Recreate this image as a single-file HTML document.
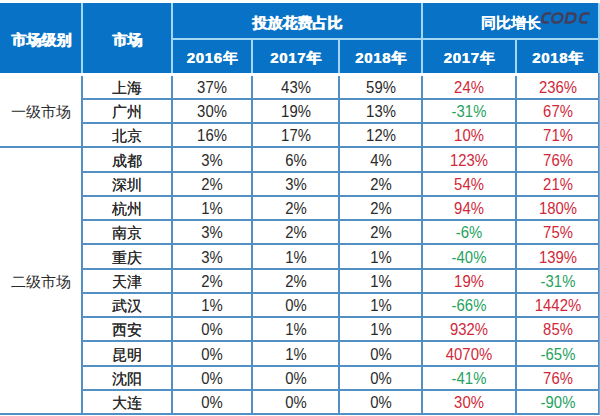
<!DOCTYPE html>
<html><head><meta charset="utf-8"><style>
html,body{margin:0;padding:0;background:#fff;width:600px;height:416px;overflow:hidden;position:relative}
.b{position:absolute}
.t{position:absolute;width:200px;height:30px;line-height:30px;text-align:center;white-space:nowrap;font-family:"Liberation Sans",sans-serif;font-size:15px}
.hb{color:#fff;font-weight:bold;text-shadow:0.5px 0 0 #fff}
.n{font-size:16px;transform:scaleX(0.93)}
.y{font-size:15px}
.ls{letter-spacing:0.7px}
.d{color:#2a2a2a}
.c{text-shadow:0.25px 0 0 #2a2a2a}
.wm{position:absolute;left:539px;top:6px;font-family:"Liberation Sans",sans-serif;font-style:italic;font-size:17px;color:#3b4a6a;letter-spacing:0px}
</style></head><body>
<div class="b" style="left:0px;top:3px;width:600px;height:70px;background:#0873c6"></div>
<div class="b" style="left:81px;top:3px;width:2px;height:70px;background:#a3d7f5"></div>
<div class="b" style="left:171px;top:3px;width:2px;height:70px;background:#a3d7f5"></div>
<div class="b" style="left:421px;top:3px;width:2px;height:70px;background:#a3d7f5"></div>
<div class="b" style="left:251px;top:38px;width:2px;height:35px;background:#a3d7f5"></div>
<div class="b" style="left:338px;top:38px;width:2px;height:35px;background:#a3d7f5"></div>
<div class="b" style="left:515px;top:38px;width:2px;height:35px;background:#a3d7f5"></div>
<div class="b" style="left:173px;top:38px;width:427px;height:2px;background:#a3d7f5"></div>
<div class="b" style="left:598px;top:3px;width:2px;height:70px;background:#a3d7f5"></div>
<div class="b" style="left:82px;top:98px;width:516px;height:2px;background:#5290c4"></div>
<div class="b" style="left:82px;top:122px;width:516px;height:2px;background:#5290c4"></div>
<div class="b" style="left:0px;top:146px;width:598px;height:2px;background:#5290c4"></div>
<div class="b" style="left:82px;top:171px;width:516px;height:2px;background:#5290c4"></div>
<div class="b" style="left:82px;top:195px;width:516px;height:2px;background:#5290c4"></div>
<div class="b" style="left:82px;top:219px;width:516px;height:2px;background:#5290c4"></div>
<div class="b" style="left:82px;top:243px;width:516px;height:2px;background:#5290c4"></div>
<div class="b" style="left:82px;top:268px;width:516px;height:2px;background:#5290c4"></div>
<div class="b" style="left:82px;top:292px;width:516px;height:2px;background:#5290c4"></div>
<div class="b" style="left:82px;top:316px;width:516px;height:2px;background:#5290c4"></div>
<div class="b" style="left:82px;top:340px;width:516px;height:2px;background:#5290c4"></div>
<div class="b" style="left:82px;top:365px;width:516px;height:2px;background:#5290c4"></div>
<div class="b" style="left:82px;top:389px;width:516px;height:2px;background:#5290c4"></div>
<div class="b" style="left:0px;top:413px;width:598px;height:2px;background:#5290c4"></div>
<div class="b" style="left:81px;top:76px;width:2px;height:339px;background:#5290c4"></div>
<div class="b" style="left:171px;top:76px;width:2px;height:339px;background:#5290c4"></div>
<div class="b" style="left:251px;top:76px;width:2px;height:339px;background:#5290c4"></div>
<div class="b" style="left:338px;top:76px;width:2px;height:339px;background:#5290c4"></div>
<div class="b" style="left:421px;top:76px;width:2px;height:339px;background:#5290c4"></div>
<div class="b" style="left:515px;top:76px;width:2px;height:339px;background:#5290c4"></div>
<div class="b" style="left:598px;top:73px;width:1px;height:342px;background:#5290c4"></div>
<div class="b" style="left:599px;top:73px;width:1px;height:342px;background:#74acd6"></div>
<div class="t hb" style="left:-59px;top:24.5px">市场级别</div>
<div class="t hb" style="left:27px;top:24.5px">市场</div>
<div class="t hb" style="left:197px;top:8px">投放花费占比</div>
<div class="t hb" style="left:410.5px;top:8px">同比增长</div>
<div class="t hb y" style="left:112.0px;top:43px"><span class="ls">2016</span>年</div>
<div class="t hb y" style="left:195.5px;top:43px"><span class="ls">2017</span>年</div>
<div class="t hb y" style="left:280.5px;top:43px"><span class="ls">2018</span>年</div>
<div class="t hb y" style="left:369.0px;top:43px"><span class="ls">2017</span>年</div>
<div class="t hb y" style="left:457.5px;top:43px"><span class="ls">2018</span>年</div>
<div class="t d" style="left:-59px;top:97px">一级市场</div>
<div class="t d" style="left:-59px;top:267px">二级市场</div>
<div class="t d c" style="left:27.0px;top:73.0px">上海</div>
<div class="t d n" style="left:112.0px;top:73.0px">37%</div>
<div class="t d n" style="left:195.5px;top:73.0px">43%</div>
<div class="t d n" style="left:280.5px;top:73.0px">59%</div>
<div class="t d n" style="left:369.0px;top:73.0px;color:#d0283a">24%</div>
<div class="t d n" style="left:457.5px;top:73.0px;color:#d0283a">236%</div>
<div class="t d c" style="left:27.0px;top:97.23px">广州</div>
<div class="t d n" style="left:112.0px;top:97.23px">30%</div>
<div class="t d n" style="left:195.5px;top:97.23px">19%</div>
<div class="t d n" style="left:280.5px;top:97.23px">13%</div>
<div class="t d n" style="left:369.0px;top:97.23px;color:#25a25e">-31%</div>
<div class="t d n" style="left:457.5px;top:97.23px;color:#d0283a">67%</div>
<div class="t d c" style="left:27.0px;top:121.46000000000001px">北京</div>
<div class="t d n" style="left:112.0px;top:121.46000000000001px">16%</div>
<div class="t d n" style="left:195.5px;top:121.46000000000001px">17%</div>
<div class="t d n" style="left:280.5px;top:121.46000000000001px">12%</div>
<div class="t d n" style="left:369.0px;top:121.46000000000001px;color:#d0283a">10%</div>
<div class="t d n" style="left:457.5px;top:121.46000000000001px;color:#d0283a">71%</div>
<div class="t d c" style="left:27.0px;top:145.69px">成都</div>
<div class="t d n" style="left:112.0px;top:145.69px">3%</div>
<div class="t d n" style="left:195.5px;top:145.69px">6%</div>
<div class="t d n" style="left:280.5px;top:145.69px">4%</div>
<div class="t d n" style="left:369.0px;top:145.69px;color:#d0283a">123%</div>
<div class="t d n" style="left:457.5px;top:145.69px;color:#d0283a">76%</div>
<div class="t d c" style="left:27.0px;top:169.92000000000002px">深圳</div>
<div class="t d n" style="left:112.0px;top:169.92000000000002px">2%</div>
<div class="t d n" style="left:195.5px;top:169.92000000000002px">3%</div>
<div class="t d n" style="left:280.5px;top:169.92000000000002px">2%</div>
<div class="t d n" style="left:369.0px;top:169.92000000000002px;color:#d0283a">54%</div>
<div class="t d n" style="left:457.5px;top:169.92000000000002px;color:#d0283a">21%</div>
<div class="t d c" style="left:27.0px;top:194.15px">杭州</div>
<div class="t d n" style="left:112.0px;top:194.15px">1%</div>
<div class="t d n" style="left:195.5px;top:194.15px">2%</div>
<div class="t d n" style="left:280.5px;top:194.15px">2%</div>
<div class="t d n" style="left:369.0px;top:194.15px;color:#d0283a">94%</div>
<div class="t d n" style="left:457.5px;top:194.15px;color:#d0283a">180%</div>
<div class="t d c" style="left:27.0px;top:218.38px">南京</div>
<div class="t d n" style="left:112.0px;top:218.38px">3%</div>
<div class="t d n" style="left:195.5px;top:218.38px">2%</div>
<div class="t d n" style="left:280.5px;top:218.38px">2%</div>
<div class="t d n" style="left:369.0px;top:218.38px;color:#25a25e">-6%</div>
<div class="t d n" style="left:457.5px;top:218.38px;color:#d0283a">75%</div>
<div class="t d c" style="left:27.0px;top:242.61px">重庆</div>
<div class="t d n" style="left:112.0px;top:242.61px">3%</div>
<div class="t d n" style="left:195.5px;top:242.61px">1%</div>
<div class="t d n" style="left:280.5px;top:242.61px">1%</div>
<div class="t d n" style="left:369.0px;top:242.61px;color:#25a25e">-40%</div>
<div class="t d n" style="left:457.5px;top:242.61px;color:#d0283a">139%</div>
<div class="t d c" style="left:27.0px;top:266.84000000000003px">天津</div>
<div class="t d n" style="left:112.0px;top:266.84000000000003px">2%</div>
<div class="t d n" style="left:195.5px;top:266.84000000000003px">2%</div>
<div class="t d n" style="left:280.5px;top:266.84000000000003px">1%</div>
<div class="t d n" style="left:369.0px;top:266.84000000000003px;color:#d0283a">19%</div>
<div class="t d n" style="left:457.5px;top:266.84000000000003px;color:#25a25e">-31%</div>
<div class="t d c" style="left:27.0px;top:291.07px">武汉</div>
<div class="t d n" style="left:112.0px;top:291.07px">1%</div>
<div class="t d n" style="left:195.5px;top:291.07px">0%</div>
<div class="t d n" style="left:280.5px;top:291.07px">1%</div>
<div class="t d n" style="left:369.0px;top:291.07px;color:#25a25e">-66%</div>
<div class="t d n" style="left:457.5px;top:291.07px;color:#d0283a">1442%</div>
<div class="t d c" style="left:27.0px;top:315.3px">西安</div>
<div class="t d n" style="left:112.0px;top:315.3px">0%</div>
<div class="t d n" style="left:195.5px;top:315.3px">1%</div>
<div class="t d n" style="left:280.5px;top:315.3px">1%</div>
<div class="t d n" style="left:369.0px;top:315.3px;color:#d0283a">932%</div>
<div class="t d n" style="left:457.5px;top:315.3px;color:#d0283a">85%</div>
<div class="t d c" style="left:27.0px;top:339.53000000000003px">昆明</div>
<div class="t d n" style="left:112.0px;top:339.53000000000003px">0%</div>
<div class="t d n" style="left:195.5px;top:339.53000000000003px">1%</div>
<div class="t d n" style="left:280.5px;top:339.53000000000003px">0%</div>
<div class="t d n" style="left:369.0px;top:339.53000000000003px;color:#d0283a">4070%</div>
<div class="t d n" style="left:457.5px;top:339.53000000000003px;color:#25a25e">-65%</div>
<div class="t d c" style="left:27.0px;top:363.76px">沈阳</div>
<div class="t d n" style="left:112.0px;top:363.76px">0%</div>
<div class="t d n" style="left:195.5px;top:363.76px">0%</div>
<div class="t d n" style="left:280.5px;top:363.76px">0%</div>
<div class="t d n" style="left:369.0px;top:363.76px;color:#25a25e">-41%</div>
<div class="t d n" style="left:457.5px;top:363.76px;color:#d0283a">76%</div>
<div class="t d c" style="left:27.0px;top:387.99px">大连</div>
<div class="t d n" style="left:112.0px;top:387.99px">0%</div>
<div class="t d n" style="left:195.5px;top:387.99px">0%</div>
<div class="t d n" style="left:280.5px;top:387.99px">0%</div>
<div class="t d n" style="left:369.0px;top:387.99px;color:#d0283a">30%</div>
<div class="t d n" style="left:457.5px;top:387.99px;color:#25a25e">-90%</div>
<svg style="position:absolute;left:0;top:0" width="600" height="40" viewBox="0 0 600 40"><g transform="translate(0,18) skewX(-11) translate(0,-18)" fill="none" stroke="#423e5c" stroke-width="2.5" stroke-linecap="butt">
<path d="M550.3,13.4 H546.4 Q542.6,13.4 542.6,17.2 V18.7 Q542.6,22.5 546.4,22.5 H549.6"/>
<rect x="552.3" y="13.4" width="9.9" height="9.1" rx="4.2" ry="4.2"/>
<path d="M566.6,13.4 H570.8 Q575.2,13.4 575.2,17.4 V18.6 Q575.2,22.5 570.8,22.5 H566.6 Z"/>
<path d="M588.9,13.4 H584.3 Q580.4,13.4 580.4,17.2 V18.7 Q580.4,22.5 584.3,22.5 H588.2"/>
</g></svg>
</body></html>
